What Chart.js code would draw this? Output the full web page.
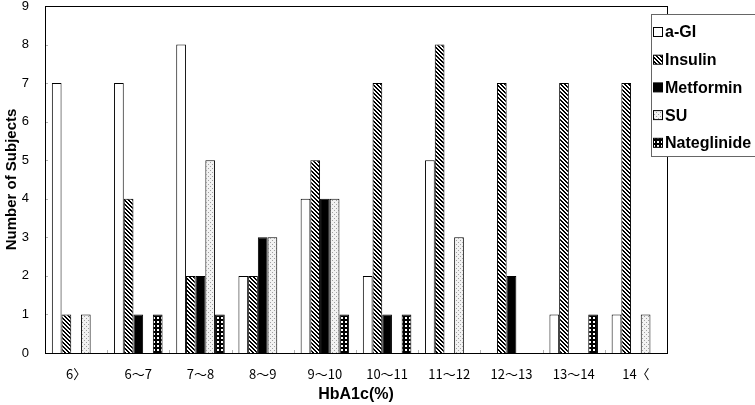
<!DOCTYPE html>
<html>
<head>
<meta charset="utf-8">
<script src="https://cdn.jsdelivr.net/npm/chart.js@4.4.0/dist/chart.umd.min.js"></script>
<style>
  html, body { margin: 0; padding: 0; background: #fff; }
  #wrap { width: 755px; height: 405px; }
</style>
</head>
<body>
<div id="wrap"><canvas id="grafica" width="755" height="405"></canvas></div>
<script>
// categorías y valores
const categorias = ["6〉", "6～7", "7～8", "8～9", "9～10", "10～11", "11～12", "12～13", "13～14", "14〈"];
const aGI        = [7, 7, 8, 2, 4, 2, 5, 0, 1, 1];
const insulina   = [1, 4, 2, 2, 5, 7, 8, 7, 7, 7];
const metformina = [0, 1, 2, 3, 4, 1, 0, 2, 0, 0];
const su         = [1, 0, 5, 3, 4, 0, 3, 0, 0, 1];
const nateglinida = [0, 1, 1, 0, 1, 1, 0, 0, 1, 0];
const etiquetas  = ["a-GI", "Insulin", "Metformin", "SU", "Nateglinide"];
const ticksY     = [0, 1, 2, 3, 4, 5, 6, 7, 8, 9];

// patrones de relleno
function patron(tam, dibujar) {
    const c = document.createElement("canvas");
    c.width = tam; c.height = tam;
    const g = c.getContext("2d");
    dibujar(g);
    return g.createPattern(c, "repeat");
}
const ctx = document.getElementById("grafica").getContext("2d");

const pBlanco = "#ffffff";
const pRayas = patron(4, g => {
    g.fillStyle = "#fff"; g.fillRect(0, 0, 4, 4);
    g.fillStyle = "#000";
    for (let i = 0; i < 4; i++) { g.fillRect(i, i, 1, 1); g.fillRect((i + 1) % 4, i, 1, 1); }
});
const pNegro = "#000000";
const pPuntos = patron(4, g => {
    g.fillStyle = "#f2f2f2"; g.fillRect(0, 0, 4, 4);
    g.fillStyle = "#a0a0a0";
    g.fillRect(0, 0, 1, 1); g.fillRect(2, 2, 1, 1);
});
const pCuadros = patron(4, g => {
    g.fillStyle = "#000"; g.fillRect(0, 0, 4, 4);
    g.fillStyle = "#fff"; g.fillRect(1, 1, 2, 2);
});

const series = [aGI, insulina, metformina, su, nateglinida];
const rellenos = [pBlanco, pRayas, pNegro, pPuntos, pCuadros];

// marco, marcas y leyenda
const extras = {
    id: "extras",
    afterDraw(chart) {
        const a = chart.chartArea;
        const c = chart.ctx;
        c.save();
        // marcas pequeñas hacia dentro
        c.strokeStyle = "#b0b0b0";
        c.lineWidth = 1;
        const y = chart.scales.y;
        ticksY.forEach(v => {
            const py = Math.round(y.getPixelForValue(v)) + 0.5;
            c.beginPath(); c.moveTo(a.left, py); c.lineTo(a.left + 3, py); c.stroke();
        });
        const paso = (a.right - a.left) / categorias.length;
        for (let i = 1; i < categorias.length; i++) {
            const px = Math.round(a.left + paso * i) + 0.5;
            c.beginPath(); c.moveTo(px, a.bottom); c.lineTo(px, a.bottom - 3); c.stroke();
        }
        // marco del área
        c.strokeStyle = "#000";
        c.strokeRect(Math.round(a.left) + 0.5, Math.round(a.top) + 0.5,
            Math.round(a.right - a.left), Math.round(a.bottom - a.top));
        // leyenda
        c.fillStyle = "#fff";
        c.fillRect(651, 14, 104, 143);
        c.strokeStyle = "#666";
        c.strokeRect(651.5, 14.5, 104, 142);
        c.font = "bold 16px 'Liberation Sans', Arial, sans-serif";
        c.textBaseline = "middle";
        chart.data.datasets.forEach((d, i) => {
            const cy = 32 + i * 27.7;
            c.fillStyle = d.backgroundColor;
            c.fillRect(653.5, cy - 4.5, 9, 9);
            c.strokeStyle = "#000";
            c.strokeRect(653.5, cy - 4.5, 9, 9);
            c.fillStyle = "#000";
            c.fillText(d.label, 665, cy + 1);
        });
        c.restore();
    }
};

new Chart(ctx, {
    type: "bar",
    data: {
        labels: categorias,
        datasets: series.map((s, i) => ({
            label: etiquetas[i],
            data: s,
            backgroundColor: rellenos[i],
            borderColor: "#000",
            borderWidth: 1,
            categoryPercentage: 0.78,
            barPercentage: 1
        }))
    },
    options: {
        responsive: false,
        animation: false,
        layout: { padding: { top: 6, right: 88, left: 0, bottom: 0 } },
        plugins: { legend: { display: false }, tooltip: { enabled: false } },
        scales: {
            x: {
                grid: { display: false, drawTicks: false },
                border: { display: false },
                ticks: {
                    color: "#000",
                    padding: 13,
                    maxRotation: 0,
                    font: { family: "'Noto Sans CJK JP', sans-serif", size: 13 }
                },
                title: {
                    display: true, text: "HbA1c(%)", color: "#000",
                    padding: { top: 0, bottom: 1 },
                    font: { family: "'Liberation Sans', Arial, sans-serif", size: 16, weight: "bold" }
                },
                afterFit: s => { s.height = 52; }
            },
            y: {
                min: 0, max: 9,
                afterBuildTicks: s => { s.ticks = ticksY.map(v => ({ value: v })); },
                grid: { display: false, drawTicks: false },
                border: { display: false },
                ticks: {
                    color: "#000",
                    padding: 16,
                    font: { family: "'Liberation Sans', Arial, sans-serif", size: 13 }
                },
                title: {
                    display: true, text: "Number of Subjects", color: "#000",
                    padding: { top: 3, bottom: 0 },
                    font: { family: "'Liberation Sans', Arial, sans-serif", size: 15, weight: "bold" }
                },
                afterFit: s => {
                    s.width = 45;
                    s.paddingTop = 0;
                    s.paddingBottom = 0;
                }
            }
        }
    },
    plugins: [extras]
});
</script>
</body>
</html>
